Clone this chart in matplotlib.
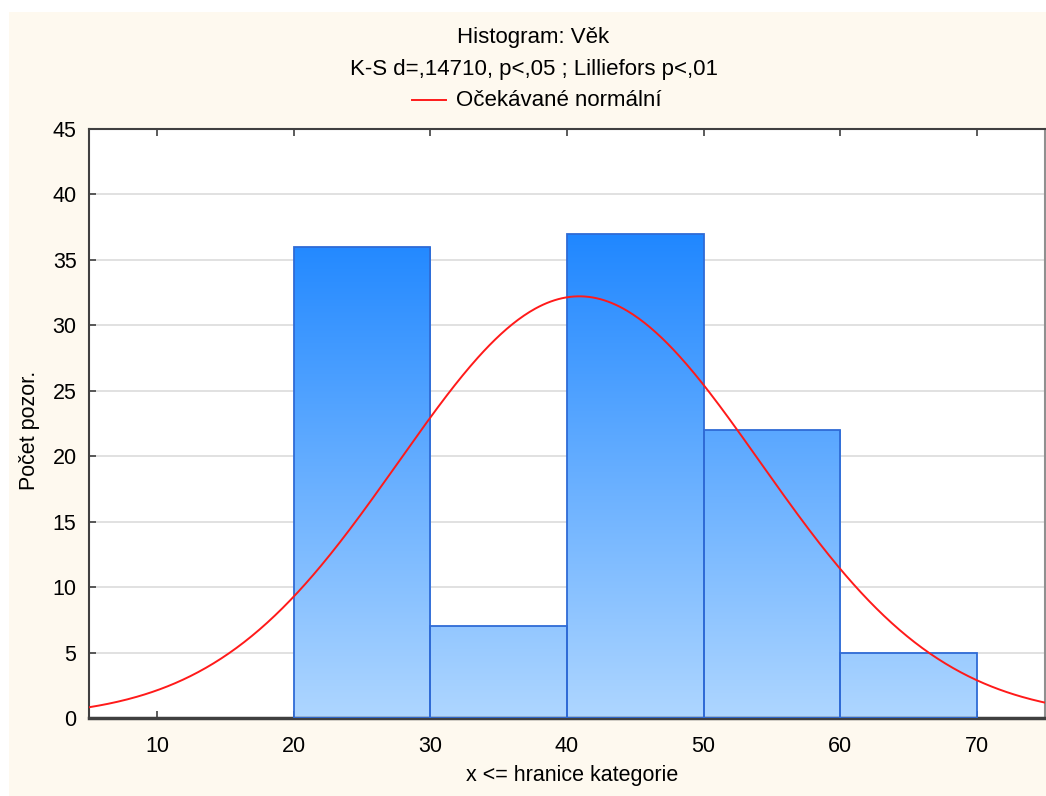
import numpy as np
import matplotlib
matplotlib.use("Agg")
import matplotlib.pyplot as plt
from matplotlib.colors import LinearSegmentedColormap
from matplotlib.patches import Rectangle

plt.rcParams['font.family'] = ['Liberation Sans', 'DejaVu Sans']

# Data
bin_edges = [20, 30, 40, 50, 60, 70]
counts = [36, 7, 37, 22, 5]
x_ticks = [10, 20, 30, 40, 50, 60, 70]
y_ticks = [0, 5, 10, 15, 20, 25, 30, 35, 40, 45]
# Expected normal parameters (fitted)
norm_mean = 40.9
norm_sd = 13.25
n_total = sum(counts)
bin_width = 10

title1 = "Histogram: Věk"
title2 = "K-S d=,14710, p<,05 ; Lilliefors p<,01"
legend_label = "Očekávané normální"
xlabel = "x <= hranice kategorie"
ylabel = "Počet pozor."

W, H = 1046, 796
fig = plt.figure(figsize=(W / 100, H / 100), dpi=100)
fig.patch.set_facecolor("white")
fig.patches.append(Rectangle((9 / W, 0), 1 - 9 / W, 1 - 12 / H, transform=fig.transFigure,
                             facecolor="#FEF9EF", edgecolor="none", zorder=-10))

ax = fig.add_axes([89 / W, 1 - 718 / H, (1045 - 89) / W, (718 - 129) / H])
ax.set_facecolor("white")

ax.set_yticks(y_ticks)
ax.set_xticks(x_ticks)
ax.grid(axis="y", color="#DCDCDC", linewidth=1.2, zorder=0)
ax.tick_params(direction="in", length=5, width=1.2, color="#404040", labelsize=15.5,
               top=True, right=False, pad=9)
ax.tick_params(axis="x", pad=13)
for s in ax.spines.values():
    s.set_color("#404040")
    s.set_linewidth(1.5)
ax.spines["bottom"].set_linewidth(2.5)
ax.spines["right"].set_color("#909090")

cmap = LinearSegmentedColormap.from_list("bars", ["#AED6FF", "#1A84FF"])
grad = np.linspace(0, 1, 256).reshape(-1, 1)
ymax_grad = 38.5
for i, c in enumerate(counts):
    x0 = bin_edges[i]
    x1 = bin_edges[i + 1]
    bar = ax.bar(x0, c, width=x1 - x0, align="edge", facecolor="none",
                 edgecolor="#2F6BD6", linewidth=1.3, zorder=3)[0]
    im = ax.imshow(grad, cmap=cmap, origin="lower", aspect="auto",
                   extent=[x0, x1, 0, ymax_grad], zorder=2, interpolation="bilinear")
    im.set_clip_path(bar)

xs = np.linspace(5, 75, 500)
ys = n_total * bin_width / (norm_sd * np.sqrt(2 * np.pi)) * np.exp(-0.5 * ((xs - norm_mean) / norm_sd) ** 2)
ax.plot(xs, ys, color="#FF1A1A", linewidth=1.4, zorder=4)
ax.set_xlim(5, 75)
ax.set_ylim(0, 45)

fig.text(533 / W, 1 - 38 / H, title1, ha="center", va="center", fontsize=16)
fig.text(534 / W, 1 - 70 / H, title2, ha="center", va="center", fontsize=16)
fig.text(456 / W, 1 - 100 / H, legend_label, ha="left", va="center", fontsize=16)
fig.add_artist(plt.Line2D([412 / W, 446 / W], [1 - 100 / H, 1 - 100 / H], color="#FF1A1A",
                          linewidth=1.4, transform=fig.transFigure))

fig.text(572 / W, 1 - 775 / H, xlabel, ha="center", va="center", fontsize=15.5)
fig.text(30 / W, 1 - 430 / H, ylabel, ha="center", va="center", rotation=90, fontsize=15.5)

fig.savefig("out.png", dpi=100, facecolor=fig.get_facecolor())
